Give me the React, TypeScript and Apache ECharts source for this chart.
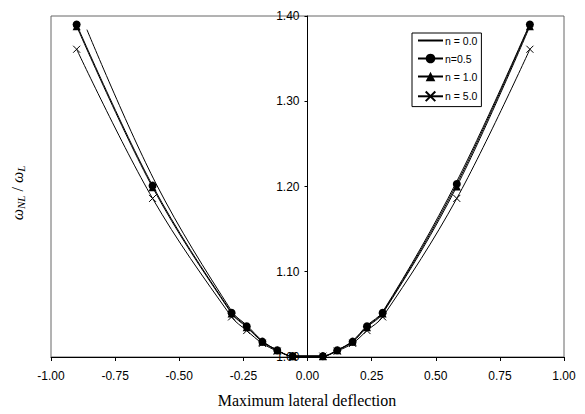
import React, { useEffect, useRef } from "react";
import * as echarts from "echarts";

// Data
const xMarked = [-0.900, -0.604, -0.296, -0.237, -0.176, -0.118, -0.058, 0.060, 0.116, 0.176, 0.232, 0.293, 0.582, 0.867];
const xPlain = [-0.860, -0.590, -0.294, -0.236, -0.176, -0.118, -0.058, 0.060, 0.116, 0.176, 0.232, 0.293, 0.582, 0.867];

const yN00 = [1.384, 1.203, 1.053, 1.037, 1.019, 1.008, 1.001, 1.001, 1.008, 1.019, 1.037, 1.053, 1.206, 1.391];
const yN05 = [1.390, 1.201, 1.052, 1.036, 1.018, 1.008, 1.001, 1.001, 1.008, 1.018, 1.036, 1.052, 1.203, 1.390];
const yN10 = [1.388, 1.199, 1.051, 1.035, 1.018, 1.008, 1.001, 1.001, 1.008, 1.018, 1.035, 1.051, 1.200, 1.388];
const yN50 = [1.361, 1.186, 1.047, 1.031, 1.016, 1.007, 1.001, 1.001, 1.007, 1.016, 1.031, 1.047, 1.186, 1.361];

const seriesNames = ["n = 0.0", "n=0.5", "n = 1.0", "n = 5.0"];

const xMin = -1;
const xMax = 1;
const xStep = 0.25;
const yMin = 1.0;
const yMax = 1.4;
const yStep = 0.1;

const zip = (xs: number[], ys: number[]) => xs.map((x, i) => [x, ys[i]]);

export default function App() {
  const ref = useRef<HTMLDivElement>(null);
  useEffect(() => {
    if (!ref.current) return;
    const chart = echarts.init(ref.current, undefined, { renderer: "svg" });
    const sans = "'Liberation Sans', Arial, sans-serif";
    const serif = "'Liberation Serif', 'Times New Roman', serif";
    const lineStyle = { color: "#000", width: 1 };
    const smooth = 0.35;
    const gridLeft = 51;
    const gridRight = 21;
    const gridWidth = 585 - gridLeft - gridRight;
    const zeroOffset = -gridWidth * ((0 - xMin) / (xMax - xMin));
    chart.setOption({
      animation: false,
      backgroundColor: "#fff",
      grid: {
        left: gridLeft,
        right: gridRight,
        top: 16,
        bottom: 57,
        show: true,
        borderColor: "#666",
        borderWidth: 1,
        backgroundColor: "transparent",
      },
      legend: {
        orient: "vertical",
        left: 412,
        top: 33,
        padding: [2, 4, 3, 5],
        itemWidth: 25,
        itemHeight: 12,
        itemGap: 7,
        backgroundColor: "#fff",
        borderColor: "#000",
        borderWidth: 1,
        borderRadius: 0,
        textStyle: { fontFamily: sans, fontSize: 10.5, color: "#000", padding: [0, 0, 0, -3] },
        data: [
          { name: seriesNames[0], itemStyle: { opacity: 0 } },
          { name: seriesNames[1] },
          { name: seriesNames[2] },
          { name: seriesNames[3] },
        ],
      },
      xAxis: {
        type: "value",
        min: xMin,
        max: xMax,
        interval: xStep,
        axisLine: { onZero: false, lineStyle: { color: "#000", width: 1 } },
        axisTick: { show: true, length: 4, lineStyle: { color: "#000" } },
        axisLabel: {
          margin: 13,
          fontFamily: sans,
          fontSize: 12,
          color: "#000",
          showMinLabel: true,
          showMaxLabel: true,
          formatter: (v: number) => v.toFixed(2),
        },
        splitLine: { show: false },
      },
      yAxis: {
        type: "value",
        min: yMin,
        max: yMax,
        interval: yStep,
        offset: zeroOffset,
        axisLine: { show: true, onZero: false, lineStyle: { color: "#000", width: 1 } },
        axisTick: { show: true, length: 3, lineStyle: { color: "#000" } },
        axisLabel: {
          margin: 8,
          fontFamily: sans,
          fontSize: 12,
          color: "#000",
          showMinLabel: true,
          showMaxLabel: true,
          formatter: (v: number) => v.toFixed(2),
        },
        splitLine: { show: false },
      },
      series: [
        {
          name: seriesNames[0],
          type: "line",
          data: zip(xPlain, yN00),
          smooth,
          symbol: "none",
          lineStyle,
          itemStyle: { color: "#000" },
          z: 2,
        },
        {
          name: seriesNames[1],
          type: "line",
          data: zip(xMarked, yN05),
          smooth,
          symbol: "circle",
          symbolSize: 8,
          lineStyle,
          itemStyle: { color: "#000" },
          z: 5,
        },
        {
          name: seriesNames[2],
          type: "line",
          data: zip(xMarked, yN10),
          smooth,
          symbol: "triangle",
          symbolSize: 8,
          lineStyle,
          itemStyle: { color: "#000" },
          z: 4,
        },
        {
          name: seriesNames[3],
          type: "line",
          data: zip(xMarked, yN50),
          smooth,
          symbol: "path://M0,0L10,10M10,0L0,10",
          symbolSize: 7,
          lineStyle,
          itemStyle: { color: "none", borderColor: "#000", borderWidth: 1 },
          z: 3,
        },
      ],
      graphic: [
        {
          type: "text",
          x: 307,
          y: 400,
          style: {
            text: "Maximum lateral deflection",
            fontFamily: serif,
            fontSize: 16,
            fill: "#000",
            textAlign: "center",
            textVerticalAlign: "middle",
          },
        },
        {
          type: "text",
          x: 17,
          y: 193,
          rotation: Math.PI / 2,
          style: {
            text: "{w|ω}{s|NL}{n| / }{w|ω}{s|L}",
            fontFamily: serif,
            fill: "#000",
            textAlign: "center",
            textVerticalAlign: "middle",
            rich: {
              w: { fontFamily: serif, fontStyle: "italic", fontSize: 16, fill: "#000" },
              s: { fontFamily: serif, fontStyle: "italic", fontSize: 11, fill: "#000", padding: [7, 0, 0, 0] },
              n: { fontFamily: serif, fontSize: 16, fill: "#000" },
            },
          },
        },
      ],
    });
    return () => chart.dispose();
  }, []);
  return (
    <div
      ref={ref}
      style={{ position: "fixed", left: 0, top: 0, width: 585, height: 414 }}
    />
  );
}
